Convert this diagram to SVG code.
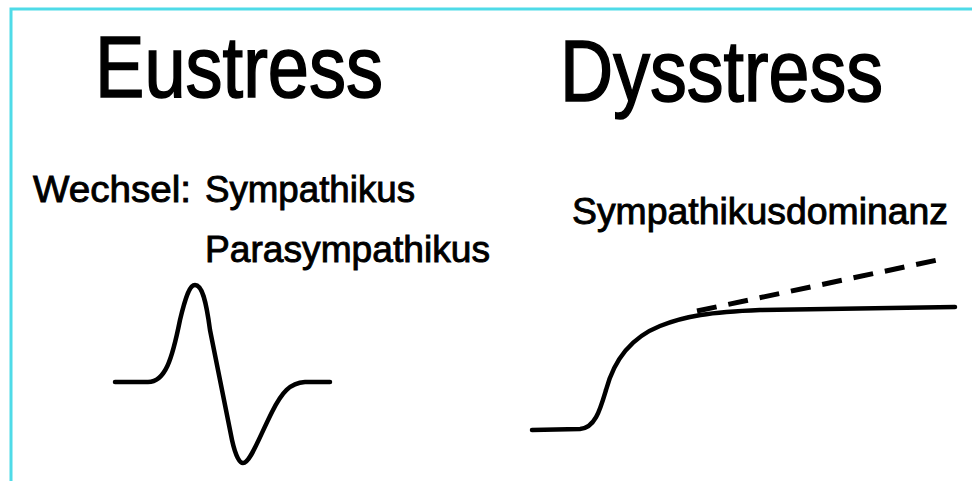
<svg xmlns="http://www.w3.org/2000/svg" width="972" height="481" viewBox="0 0 972 481">
  <style>
    .title { font-family: "Liberation Sans", Arial, sans-serif; font-size: 87px; fill: #000; stroke: #000; stroke-width: 1.6; }
    .label { font-family: "Liberation Sans", Arial, sans-serif; font-size: 37px; fill: #000; stroke: #000; stroke-width: 0.9; }
    .curve { fill: none; stroke: #000; stroke-width: 4.5; stroke-linecap: round; stroke-linejoin: round; }
    .dash { fill: none; stroke: #000; stroke-width: 5; stroke-dasharray: 20 12; }
  </style>
  <rect x="0" y="0" width="972" height="481" fill="#ffffff"/>
  <path d="M11,481 V9 H972" fill="none" stroke="#4fdbe8" stroke-width="3"/>

  <g id="eustress">
    <text class="title" x="95" y="97" textLength="288" lengthAdjust="spacingAndGlyphs">Eustress</text>
    <text class="label" x="33" y="202" textLength="158" lengthAdjust="spacingAndGlyphs">Wechsel:</text>
    <text class="label" x="205" y="202" textLength="210" lengthAdjust="spacingAndGlyphs">Sympathikus</text>
    <text class="label" x="205" y="262" textLength="285" lengthAdjust="spacingAndGlyphs">Parasympathikus</text>
    <path class="curve" d="M115,382 L148,382 C165,382 172,360 180,320 C186,295 190,285 195,285 C202,285 206,300 210,330 L232,440 C236,458 240,463 243,463 C250,463 258,440 272,412 C282,392 290,383 305,382 L330,382"/>
  </g>

  <g id="dysstress">
    <text class="title" x="560" y="101" textLength="323" lengthAdjust="spacingAndGlyphs">Dysstress</text>
    <text class="label" x="572" y="224" textLength="376" lengthAdjust="spacingAndGlyphs">Sympathikusdominanz</text>
    <path class="curve" d="M532,430 L580,429 C595,428 600,410 606,390 C614,360 630,338 660,326 C685,316 710,312 760,310 L955,307"/>
  </g>

  <g id="connectors">
    <path class="dash" d="M697,311 L947,258"/>
  </g>
</svg>
